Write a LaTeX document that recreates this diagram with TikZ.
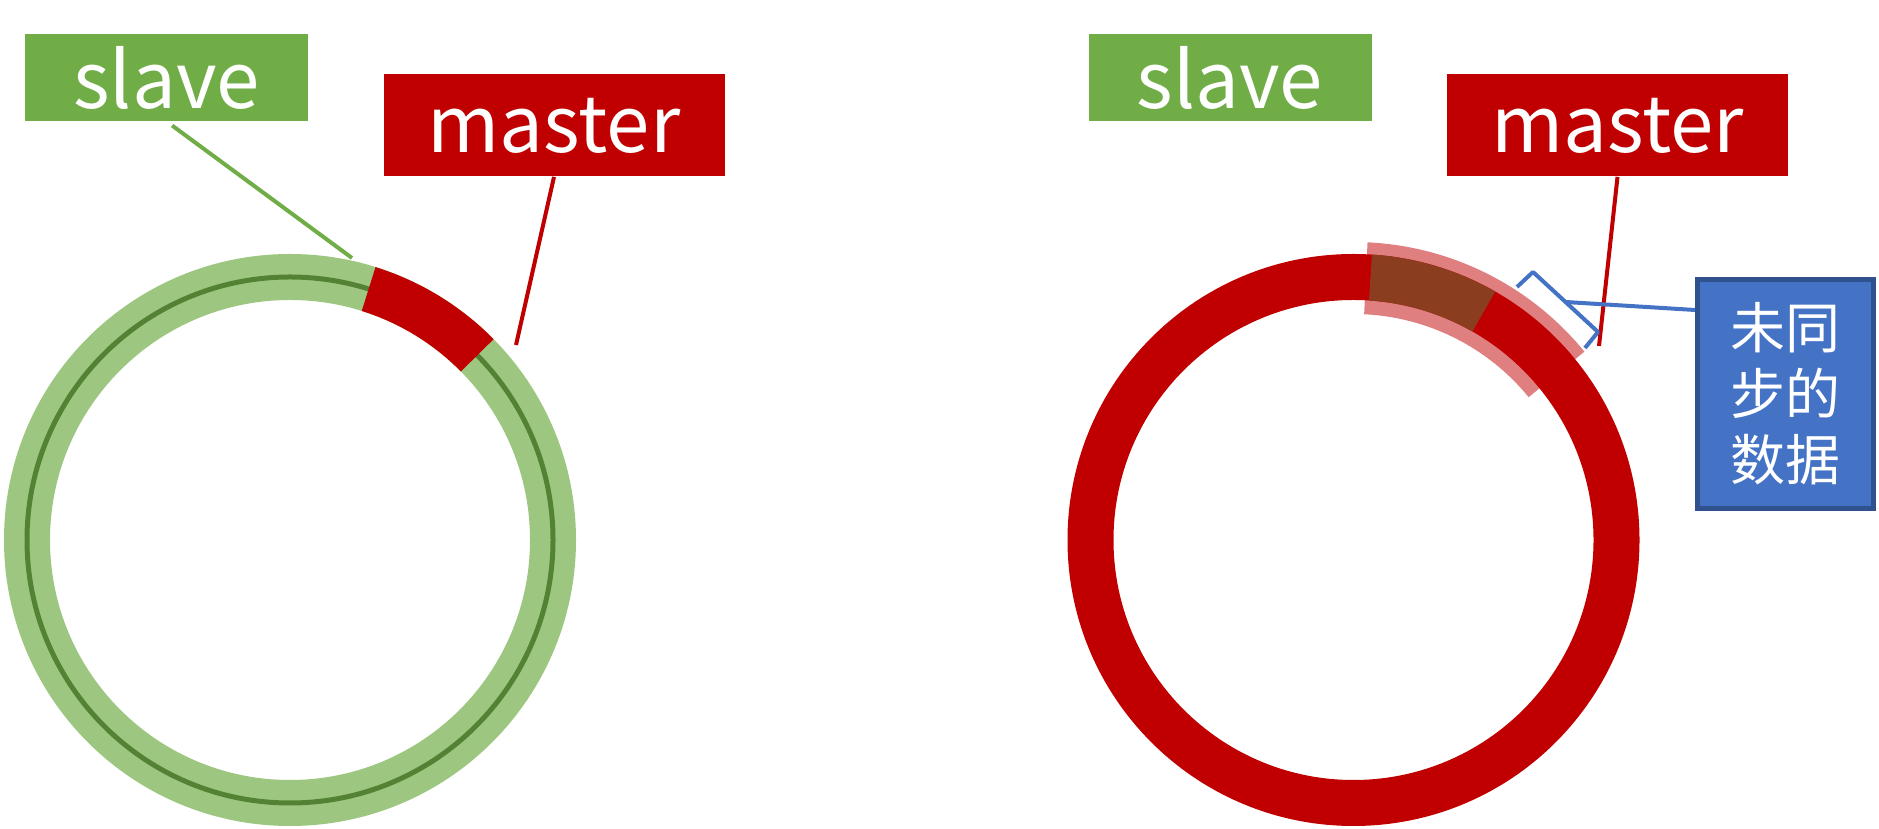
\documentclass[tikz,border=0pt]{standalone}
\usepackage{fontspec}
\newfontfamily\cjk{Noto Sans CJK SC}
\definecolor{slavegreen}{HTML}{70AD47}
\definecolor{ringgreen}{HTML}{9DC780}
\definecolor{darkgreen}{HTML}{548235}
\definecolor{masterred}{HTML}{C00000}
\definecolor{lightred}{HTML}{DF7F7F}
\definecolor{lagbrown}{HTML}{8B3E1F}
\definecolor{noteblue}{HTML}{4472C4}
\definecolor{noteborder}{HTML}{2F528F}
\tikzset{
  tag/.style={fill=#1, text=white, inner sep=0pt, font=\cjk\fontsize{39}{39}\selectfont},
  slavetag/.style={tag=slavegreen, minimum width=141.5pt, minimum height=43.5pt},
  mastertag/.style={tag=masterred, minimum width=170.5pt, minimum height=51pt},
  link/.style={line width=2pt, #1}
}
\begin{document}
\begin{tikzpicture}[x=0.5pt, y=0.5pt]
  \useasboundingbox (0,0) rectangle (1879,829);

  % left: slave in sync
  \begin{scope}[shift={(290,289)}]
    \fill[ringgreen, even odd rule] (0,0) circle (286) (0,0) circle (240);
    \draw[darkgreen, line width=2.5pt] (0,0) circle (263);
    \fill[masterred] (44.6:286) arc[start angle=44.6, end angle=72.6, radius=286]
      -- (72.6:240) arc[start angle=72.6, end angle=44.6, radius=240] -- cycle;
  \end{scope}
  \node[slavetag] (slaveL) at (166.5,751.5) {slave};
  \node[mastertag] (masterL) at (554,703.5) {master};
  \coordinate (slaveLend) at (352,571);
  \coordinate (masterLend) at (516,484);
  \draw[link=slavegreen, shorten <=3.5pt] (slaveL.south) -- (slaveLend);
  \draw[link=masterred] (masterL.south) -- (masterLend);

  % right: master ahead of slave
  \begin{scope}[shift={(1353.5,289)}]
    \fill[lightred] (39.2:298) arc[start angle=39.2, end angle=87.3, radius=298]
      -- (87.3:226) arc[start angle=87.3, end angle=39.2, radius=226] -- cycle;
    \fill[masterred, even odd rule] (0,0) circle (286) (0,0) circle (240);
    \fill[lagbrown] (60.3:286) arc[start angle=60.3, end angle=86.3, radius=286]
      -- (86.3:240) arc[start angle=86.3, end angle=60.3, radius=240] -- cycle;
  \end{scope}
  \node[slavetag] (slaveR) at (1230,751.5) {slave};
  \node[mastertag] (masterR) at (1617.5,703.5) {master};
  \node[draw=noteborder, line width=2.5pt, fill=noteblue, text=white, inner sep=0pt,
    minimum width=88pt, minimum height=114.5pt, align=center,
    font=\cjk\fontsize{27.5}{33}\selectfont] (note) at (1785.5,435) {未同\\步的\\数据};
  \coordinate (masterRend) at (1599,483);
  \draw[link=masterred] (masterR.south) -- (masterRend);
  \draw[link=noteblue, line join=round] (1517,542) -- (1533,557) -- (1598,497) -- (1585,481);
  \coordinate (bracket) at (1565.5,527);
  \draw[link=noteblue] (bracket) -- (note.west |- 0,519);
\end{tikzpicture}
\end{document}
